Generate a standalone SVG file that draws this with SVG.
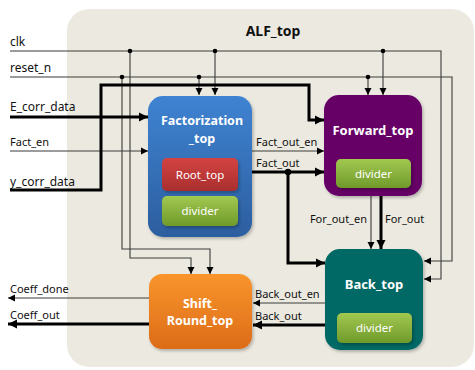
<svg xmlns="http://www.w3.org/2000/svg" width="475" height="370" viewBox="0 0 475 370">
<defs>
<style>
.lbl{font-family:"Noto Sans","Open Sans",sans-serif;font-size:12px;fill:#111}
.lbls{font-family:"Noto Sans","Open Sans",sans-serif;font-size:11px;fill:#111}
.ttl{font-family:"Noto Sans","Open Sans",sans-serif;font-size:13px;font-weight:bold;fill:#fff;text-anchor:middle}
.ttl2{font-family:"Noto Sans","Open Sans",sans-serif;font-size:12.5px;font-weight:bold;fill:#fff;text-anchor:middle}
.sub{font-family:"Noto Sans","Open Sans",sans-serif;font-size:11.5px;fill:#fff;text-anchor:middle}
.thin{fill:none;stroke:#3a3a3a;stroke-width:1.1}
.thick{fill:none;stroke:#000;stroke-width:3}
.dot{fill:#000}
</style>
<marker id="a1" markerUnits="userSpaceOnUse" markerWidth="8" markerHeight="8" refX="7" refY="4" orient="auto"><path d="M0,0.5 L7,4 L0,7.5 z" fill="#000"/></marker>
<marker id="a2" markerUnits="userSpaceOnUse" markerWidth="10" markerHeight="10" refX="9" refY="5" orient="auto"><path d="M0,0.5 L9,5 L0,9.5 z" fill="#000"/></marker>
<linearGradient id="gBlue" x1="0" y1="0" x2="0" y2="1"><stop offset="0" stop-color="#3F83D2"/><stop offset="1" stop-color="#2C5E9F"/></linearGradient>
<linearGradient id="gRed" x1="0" y1="0" x2="0" y2="1"><stop offset="0" stop-color="#D44342"/><stop offset="1" stop-color="#A92E2E"/></linearGradient>
<linearGradient id="gGreen" x1="0" y1="0" x2="0" y2="1"><stop offset="0" stop-color="#A2C850"/><stop offset="1" stop-color="#6F9A2A"/></linearGradient>
<linearGradient id="gOrange" x1="0" y1="0" x2="0" y2="1"><stop offset="0" stop-color="#F9952C"/><stop offset="1" stop-color="#DC6C18"/></linearGradient>
<filter id="sh" x="-10%" y="-10%" width="125%" height="125%"><feDropShadow dx="1.5" dy="2" stdDeviation="1.5" flood-color="#000" flood-opacity="0.25"/></filter>
</defs>

<g id="ALF_top">
<rect x="67" y="9" width="407" height="358" rx="22" fill="#ECEAE0"/>
<text x="273" y="36" text-anchor="middle" style="font-family:'Noto Sans','Open Sans',sans-serif;font-size:14px;font-weight:bold;fill:#111">ALF_top</text>
</g>

<g id="connectors">
<polyline class="thin" points="10,51 441,51 441,279 424,279" marker-end="url(#a1)"/>
<polyline class="thin" points="10,77 452,77 452,261 424,261" marker-end="url(#a1)"/>
<line class="thin" x1="215" y1="51" x2="215" y2="95" marker-end="url(#a1)"/>
<line class="thin" x1="199" y1="77" x2="199" y2="95" marker-end="url(#a1)"/>
<line class="thin" x1="383" y1="51" x2="383" y2="95" marker-end="url(#a1)"/>
<line class="thin" x1="368" y1="77" x2="368" y2="95" marker-end="url(#a1)"/>
<polyline class="thin" points="130,51 130,258 191,258 191,274" marker-end="url(#a1)"/>
<polyline class="thin" points="122,77 122,249 210,249 210,274" marker-end="url(#a1)"/>
<line class="thick" x1="10" y1="117" x2="148" y2="117" marker-end="url(#a2)"/>
<line class="thin" x1="10" y1="151" x2="148" y2="151" marker-end="url(#a1)"/>
<polyline class="thick" points="10,190 101,190 101,85 309,85 309,120 324,120" marker-end="url(#a2)"/>
<line class="thin" x1="252" y1="151" x2="324" y2="151" marker-end="url(#a1)"/>
<line class="thick" x1="252" y1="172" x2="324" y2="172" marker-end="url(#a2)"/>
<polyline class="thick" points="288,172 288,263 325,263" marker-end="url(#a2)"/>
<line class="thin" x1="371" y1="196" x2="371" y2="249" marker-end="url(#a1)"/>
<line class="thick" x1="381" y1="196" x2="381" y2="249" marker-end="url(#a2)"/>
<line class="thin" x1="325" y1="303" x2="253" y2="303" marker-end="url(#a1)"/>
<line class="thick" x1="325" y1="325" x2="253" y2="325" marker-end="url(#a2)"/>
<line class="thin" x1="149" y1="298" x2="8" y2="298" marker-end="url(#a1)"/>
<line class="thick" x1="149" y1="324" x2="8" y2="324" marker-end="url(#a2)"/>
<circle class="dot" cx="130" cy="51" r="2.3"/>
<circle class="dot" cx="215" cy="51" r="2.3"/>
<circle class="dot" cx="383" cy="51" r="2.3"/>
<circle class="dot" cx="122" cy="77" r="2.3"/>
<circle class="dot" cx="199" cy="77" r="2.3"/>
<circle class="dot" cx="368" cy="77" r="2.3"/>
<circle class="dot" cx="288" cy="172" r="3.2"/>
<text class="lbl" x="10" y="46">clk</text>
<text class="lbl" x="10" y="72">reset_n</text>
<text class="lbl" x="10" y="111">E_corr_data</text>
<text class="lbls" x="10" y="146">Fact_en</text>
<text class="lbl" x="10" y="186">y_corr_data</text>
<text class="lbls" x="256" y="146">Fact_out_en</text>
<text class="lbls" x="256" y="167">Fact_out</text>
<text class="lbls" x="367" y="223" text-anchor="end">For_out_en</text>
<text class="lbls" x="385" y="223">For_out</text>
<text class="lbls" x="255" y="298">Back_out_en</text>
<text class="lbls" x="255" y="320">Back_out</text>
<text class="lbls" x="10" y="293">Coeff_done</text>
<text class="lbls" x="10" y="319">Coeff_out</text>
</g>

<g id="Factorization_top">
<rect x="148" y="96" width="104" height="141" rx="15" fill="url(#gBlue)" filter="url(#sh)"/>
<text class="ttl2" x="202" y="125">Factorization</text>
<text class="ttl2" x="202" y="142.5">_top</text>
</g>
<g id="Root_top">
<rect x="162" y="158" width="76" height="33" rx="5" fill="url(#gRed)" filter="url(#sh)"/>
<text class="sub" x="200" y="178.5">Root_top</text>
</g>
<g id="divider_fact">
<rect x="162" y="196" width="76" height="30" rx="5" fill="url(#gGreen)" filter="url(#sh)"/>
<text class="sub" x="200" y="215">divider</text>
</g>

<g id="Forward_top">
<rect x="324" y="95" width="98" height="101" rx="15" fill="#660066" filter="url(#sh)"/>
<text class="ttl" x="373" y="135">Forward_top</text>
</g>
<g id="divider_forward">
<rect x="336" y="159" width="75" height="29" rx="5" fill="url(#gGreen)" filter="url(#sh)"/>
<text class="sub" x="373.5" y="177.5">divider</text>
</g>

<g id="Back_top">
<rect x="325" y="249" width="98" height="101" rx="15" fill="#006865" filter="url(#sh)"/>
<text class="ttl" x="374" y="289">Back_top</text>
</g>
<g id="divider_back">
<rect x="337" y="313" width="75" height="30" rx="5" fill="url(#gGreen)" filter="url(#sh)"/>
<text class="sub" x="374.5" y="332">divider</text>
</g>

<g id="Shift_Round_top">
<rect x="149" y="274" width="103" height="75" rx="13" fill="url(#gOrange)" filter="url(#sh)"/>
<text class="ttl2" x="200" y="307.5">Shift_</text>
<text class="ttl2" x="200" y="325">Round_top</text>
</g>
</svg>
